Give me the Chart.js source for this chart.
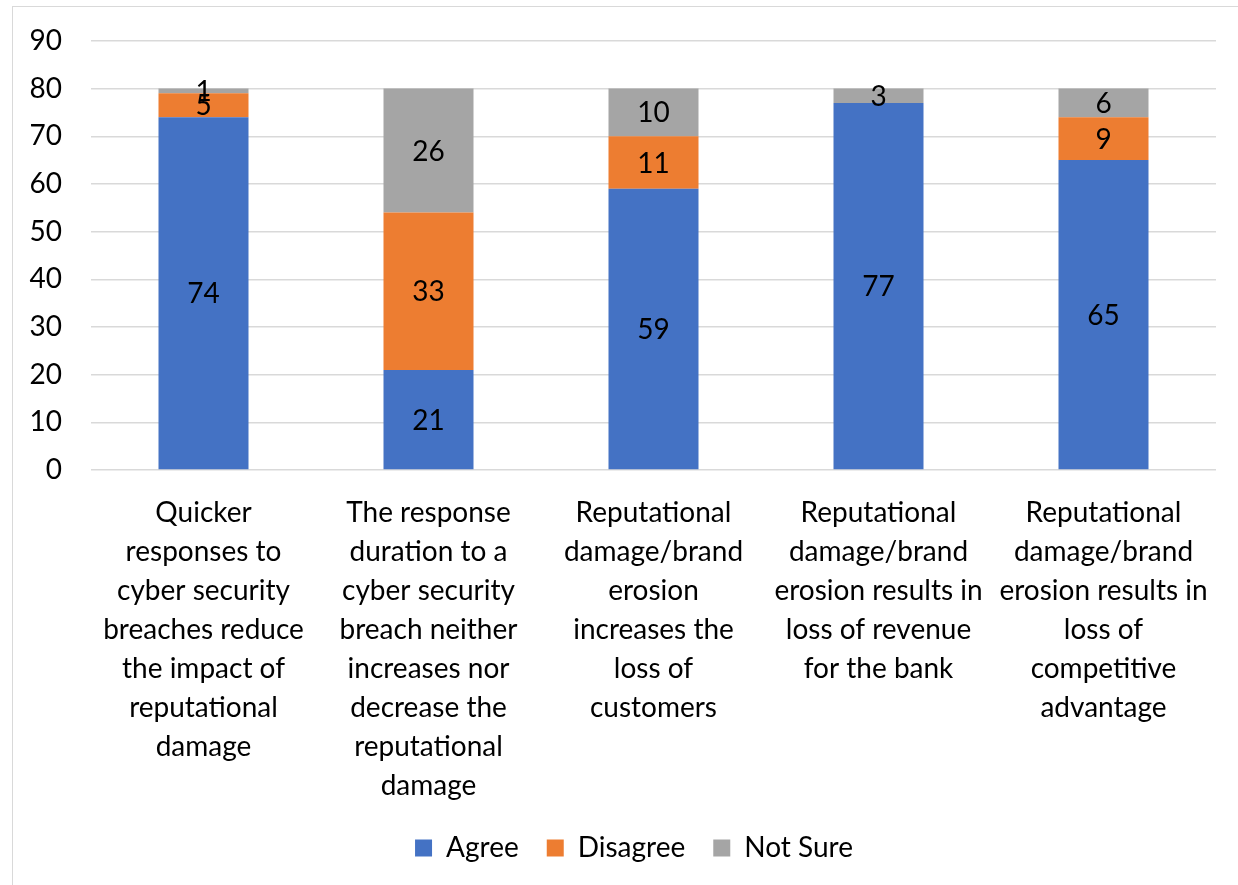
<!DOCTYPE html>
<html>
<head>
<meta charset="utf-8">
<script src="https://cdn.jsdelivr.net/npm/chart.js@4"></script>
<style>
  html, body { margin: 0; padding: 0; background: #fff; overflow: hidden; }
  #frame { position: absolute; left: 12px; top: 6px; width: 1400px; height: 1000px; border: 1px solid #d9d9d9; }
  #wrap { position: absolute; left: 0; top: 0; width: 1238px; height: 885px; }
</style>
</head>
<body>
<div id="frame"></div>
<div id="wrap"><canvas id="chart"></canvas></div>
<script>
const categories = [
  ["Quicker", "responses to", "cyber security", "breaches reduce", "the impact of", "reputational", "damage"],
  ["The response", "duration to a", "cyber security", "breach neither", "increases nor", "decrease the", "reputational", "damage"],
  ["Reputational", "damage/brand", "erosion", "increases the", "loss of", "customers"],
  ["Reputational", "damage/brand", "erosion results in", "loss of revenue", "for the bank"],
  ["Reputational", "damage/brand", "erosion results in", "loss of", "competitive", "advantage"]
];
const agree = [74, 21, 59, 77, 65];
const disagree = [5, 33, 11, 0, 9];
const notSure = [1, 26, 10, 3, 6];
const yTicks = [0, 10, 20, 30, 40, 50, 60, 70, 80, 90];

const FONT = "Lato, 'Open Sans', sans-serif";

// draw value labels in the middle of each segment
const segmentLabels = {
  id: "segmentLabels",
  afterLayout(chart) {
    // nudge legend a bit right, like the original
    chart.legend.left += 16;
    chart.legend.right += 16;
  },
  afterDatasetsDraw(chart) {
    const ctx = chart.ctx;
    ctx.save();
    ctx.font = "28px " + FONT;
    ctx.fillStyle = "#000";
    ctx.textAlign = "center";
    ctx.textBaseline = "middle";
    chart.data.datasets.forEach((ds, i) => {
      const meta = chart.getDatasetMeta(i);
      meta.data.forEach((bar, j) => {
        const v = ds.data[j];
        if (!v) return;
        const mid = (bar.y + bar.base) / 2;
        ctx.fillText(String(v), bar.x, mid + 1);
      });
    });
    ctx.restore();
  }
};

new Chart(document.getElementById("chart").getContext("2d"), {
  type: "bar",
  data: {
    labels: categories,
    datasets: [
      { label: "Agree", data: agree, backgroundColor: "#4472C4" },
      { label: "Disagree", data: disagree, backgroundColor: "#ED7D31" },
      { label: "Not Sure", data: notSure, backgroundColor: "#A5A5A5" }
    ]
  },
  options: {
    responsive: true,
    maintainAspectRatio: false,
    animation: false,
    categoryPercentage: 1,
    barPercentage: 0.4,
    layout: { padding: { left: 20, right: 22, top: 36, bottom: 13 } },
    plugins: {
      tooltip: { enabled: false },
      legend: {
        position: "bottom",
        labels: {
          boxWidth: 17,
          boxHeight: 17,
          padding: 28,
          color: "#000",
          font: { family: FONT, size: 28 }
        }
      }
    },
    scales: {
      x: {
        stacked: true,
        grid: { display: false },
        border: { display: false },
        ticks: {
          color: "#000",
          padding: 16,
          maxRotation: 0,
          autoSkip: false,
          font: { family: FONT, size: 28, lineHeight: 1.39 }
        },
        afterFit: (s) => { s.height = 336; }
      },
      y: {
        stacked: true,
        min: 0,
        max: 90,
        afterBuildTicks: (s) => { s.ticks = yTicks.map((v) => ({ value: v })); },
        grid: { color: "#d9d9d9", lineWidth: 1.5, drawTicks: false },
        border: { display: false },
        ticks: {
          color: "#000",
          padding: 29,
          font: { family: FONT, size: 28, lineHeight: 0.85 }
        },
        afterFit: (s) => { s.width = 71; }
      }
    }
  },
  plugins: [segmentLabels]
});
</script>
</body>
</html>
